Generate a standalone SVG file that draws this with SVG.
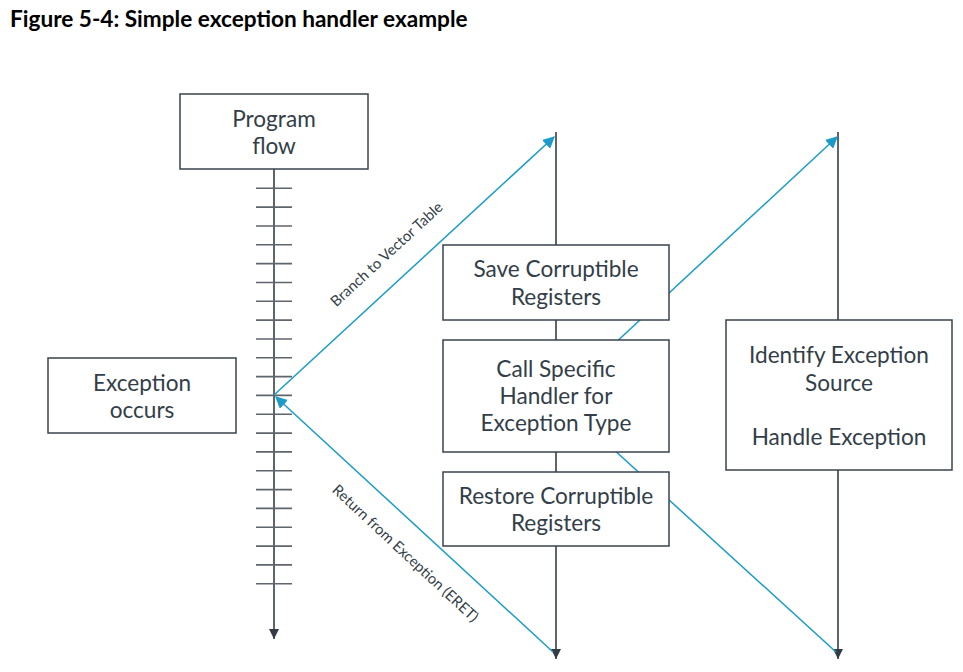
<svg xmlns="http://www.w3.org/2000/svg" width="963" height="672" viewBox="0 0 963 672">
<style>
.box{fill:#fff;stroke:#3a434c;stroke-width:1.5}
.t{font-family:Lato,"Open Sans","Liberation Sans",sans-serif;font-size:22.6px;fill:#333e48;text-anchor:middle}
.lbl{font-family:Lato,"Open Sans","Liberation Sans",sans-serif;font-size:14.8px;fill:#333e48;text-anchor:middle}
.v{stroke:#5f656c;stroke-width:2;fill:none}
.tick{stroke:#5f656c;stroke-width:1.6}
.b{stroke:#1a9bc9;stroke-width:1.5;fill:none}
</style>
<defs>
<marker id="ad" viewBox="0 0 10 10" refX="10" refY="5" markerWidth="10" markerHeight="10" markerUnits="userSpaceOnUse" orient="auto"><path d="M0,0 L10,5 L0,10 z" fill="#333c45"/></marker>
<marker id="ab" viewBox="0 0 10 10" refX="9" refY="5" markerWidth="12" markerHeight="12" markerUnits="userSpaceOnUse" orient="auto"><path d="M0,0 L10,5 L0,10 z" fill="#1a9bc9"/></marker>
</defs>
<rect width="963" height="672" fill="#fff"/>
<text x="10" y="27" font-family="Lato,'Open Sans','Liberation Sans',sans-serif" font-weight="bold" font-size="22.6" fill="#000">Figure 5-4: Simple exception handler example</text>

<g id="connectors">
<line class="v" x1="274" y1="169" x2="274" y2="639" marker-end="url(#ad)"/>
<g class="tick">
<line x1="256" y1="188.3" x2="292" y2="188.3"/><line x1="256" y1="207.1" x2="292" y2="207.1"/><line x1="256" y1="226" x2="292" y2="226"/><line x1="256" y1="244.8" x2="292" y2="244.8"/><line x1="256" y1="263.6" x2="292" y2="263.6"/><line x1="256" y1="282.5" x2="292" y2="282.5"/><line x1="256" y1="301.3" x2="292" y2="301.3"/><line x1="256" y1="320.1" x2="292" y2="320.1"/><line x1="256" y1="339" x2="292" y2="339"/><line x1="256" y1="357.8" x2="292" y2="357.8"/><line x1="256" y1="376.6" x2="292" y2="376.6"/><line x1="256" y1="395.4" x2="292" y2="395.4"/><line x1="256" y1="414.3" x2="292" y2="414.3"/><line x1="256" y1="433.1" x2="292" y2="433.1"/><line x1="256" y1="451.9" x2="292" y2="451.9"/><line x1="256" y1="470.8" x2="292" y2="470.8"/><line x1="256" y1="489.6" x2="292" y2="489.6"/><line x1="256" y1="508.4" x2="292" y2="508.4"/><line x1="256" y1="527.3" x2="292" y2="527.3"/><line x1="256" y1="546.1" x2="292" y2="546.1"/><line x1="256" y1="564.9" x2="292" y2="564.9"/><line x1="256" y1="583.7" x2="292" y2="583.7"/>
</g>
<line class="v" x1="556" y1="132" x2="556" y2="659" marker-end="url(#ad)"/>
<line class="v" x1="838" y1="132" x2="838" y2="659" marker-end="url(#ad)"/>
<line class="b" x1="274" y1="395" x2="554" y2="137" marker-end="url(#ab)"/>
<line class="b" x1="553" y1="652" x2="276" y2="397" marker-end="url(#ab)"/>
<line class="b" x1="556" y1="398" x2="837" y2="137" marker-end="url(#ab)"/>
<line class="b" x1="556" y1="397" x2="836" y2="652"/>
<text class="lbl" transform="translate(390,258) rotate(-42.6)">Branch to Vector Table</text>
<text class="lbl" transform="translate(402,557) rotate(43)">Return from Exception (ERET)</text>
</g>

<g id="program-flow"><rect class="box" x="180" y="94" width="188" height="75"/><text class="t" x="274" y="127">Program</text><text class="t" x="274" y="154">flow</text></g>
<g id="exception-occurs"><rect class="box" x="48" y="358" width="188" height="75"/><text class="t" x="142" y="391">Exception</text><text class="t" x="142" y="418">occurs</text></g>
<g id="save"><rect class="box" x="443" y="245" width="226" height="75"/><text class="t" x="556" y="277">Save Corruptible</text><text class="t" x="556" y="305">Registers</text></g>
<g id="call"><rect class="box" x="443" y="340" width="226" height="112"/><text class="t" x="556" y="377">Call Specific</text><text class="t" x="556" y="404">Handler for</text><text class="t" x="556" y="431">Exception Type</text></g>
<g id="restore"><rect class="box" x="443" y="472" width="226" height="74"/><text class="t" x="556" y="504">Restore Corruptible</text><text class="t" x="556" y="531">Registers</text></g>
<g id="identify"><rect class="box" x="726" y="320" width="226" height="150"/><text class="t" x="839" y="363">Identify Exception</text><text class="t" x="839" y="391">Source</text><text class="t" x="839" y="445">Handle Exception</text></g>
</svg>
